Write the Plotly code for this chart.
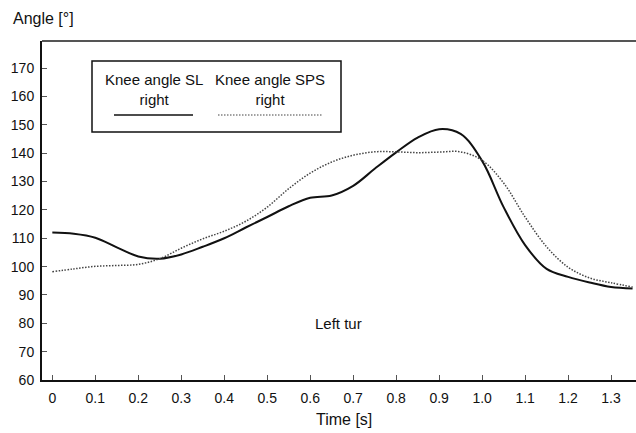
import plotly.graph_objects as go

time_s = [0, 0.05, 0.1, 0.15, 0.2, 0.25, 0.3, 0.35, 0.4, 0.45, 0.5, 0.55, 0.6, 0.65,
          0.7, 0.75, 0.8, 0.85, 0.9, 0.95, 1.0, 1.05, 1.1, 1.15, 1.2, 1.25, 1.3, 1.35]
knee_sl_right = [112.0, 111.6, 110.2, 106.8, 103.6, 102.8, 104.3, 107.0, 110.0, 113.8,
                 117.5, 121.3, 124.3, 125.1, 128.5, 134.5, 140.3, 145.5, 148.5, 146.8,
                 137.3, 121.0, 107.6, 99.2, 96.4, 94.4, 92.8, 92.3]
knee_sps_right = [98.2, 99.2, 100.1, 100.4, 100.8, 102.8, 106.5, 109.8, 112.5, 116.0,
                  121.0, 127.5, 133.0, 136.9, 139.3, 140.5, 140.5, 140.2, 140.4, 140.5,
                  137.5, 129.5, 117.5, 107.0, 99.8, 96.0, 94.3, 92.8]

x_ticks = [0, 0.1, 0.2, 0.3, 0.4, 0.5, 0.6, 0.7, 0.8, 0.9, 1.0, 1.1, 1.2, 1.3]
x_tick_labels = ["0", "0.1", "0.2", "0.3", "0.4", "0.5", "0.6", "0.7", "0.8", "0.9",
                 "1.0", "1.1", "1.2", "1.3"]
y_ticks = [60, 70, 80, 90, 100, 110, 120, 130, 140, 150, 160, 170]
series_names = ["Knee angle SL<br>right", "Knee angle SPS<br>right"]

FONT = "Liberation Sans, Arial, sans-serif"
DOT = "1.5px,1.5px"

fig = go.Figure()
fig.add_trace(go.Scatter(x=time_s, y=knee_sl_right, mode="lines",
                         line=dict(color="#111111", width=2, shape="spline"),
                         name=series_names[0], showlegend=False))
fig.add_trace(go.Scatter(x=time_s, y=knee_sps_right, mode="lines",
                         line=dict(color="#444444", width=1.5, dash=DOT, shape="spline"),
                         name=series_names[1], showlegend=False))

# plot area: x 42..636, y 41..380 px
W, H = 636, 433
L, R, T, B = 42, 0, 41, 53
pw, ph = W - L - R, H - T - B
def px(x):
    return (x - L) / pw
def py(y):
    return (H - B - y) / ph

shapes = [
    dict(type="rect", xref="paper", yref="paper", x0=px(92), x1=px(341), y0=py(132), y1=py(61),
         line=dict(color="#111111", width=1.5), fillcolor="white"),
    dict(type="line", xref="paper", yref="paper", x0=px(114), x1=px(193), y0=py(115), y1=py(115),
         line=dict(color="#111111", width=1.5)),
    dict(type="line", xref="paper", yref="paper", x0=px(218), x1=px(323), y0=py(115), y1=py(115),
         line=dict(color="#444444", width=1.2, dash=DOT)),
    dict(type="line", xref="paper", yref="paper", x0=0, x1=1, y0=1, y1=1,
         line=dict(color="#555555", width=2)),
]

annotations = [
    dict(text=series_names[0], xref="paper", yref="paper", x=px(154), y=py(89),
         xanchor="center", yanchor="middle",
         showarrow=False, font=dict(family=FONT, size=15, color="#111"), align="center"),
    dict(text=series_names[1], xref="paper", yref="paper", x=px(270), y=py(89),
         xanchor="center", yanchor="middle",
         showarrow=False, font=dict(family=FONT, size=15, color="#111"), align="center"),
    dict(text="Angle [°]", xref="paper", yref="paper", x=px(11), y=py(18), xanchor="left",
         yanchor="middle",
         showarrow=False, font=dict(family=FONT, size=16, color="#111")),
    dict(text="Time [s]", xref="paper", yref="paper", x=px(344), y=py(420),
         xanchor="center", yanchor="middle",
         showarrow=False, font=dict(family=FONT, size=16, color="#111")),
    dict(text="Left tur", x=0.665, y=80, xref="x", yref="y",
         xanchor="center", yanchor="middle",
         showarrow=False, font=dict(family=FONT, size=15, color="#111")),
]

fig.update_layout(
    width=W, height=H,
    margin=dict(l=L, r=R, t=T, b=B, autoexpand=False),
    paper_bgcolor="white", plot_bgcolor="white",
    font=dict(family=FONT, size=14, color="#111"),
    shapes=shapes, annotations=annotations,
    showlegend=False,
    xaxis=dict(range=[-0.024, 1.358], tickvals=x_ticks, ticktext=x_tick_labels,
               showgrid=False, zeroline=False, showline=True, linecolor="#111", linewidth=2,
               ticks="inside", ticklen=5, tickcolor="#555", tickwidth=1,
               ticklabelstandoff=4, automargin=False),
    yaxis=dict(range=[60, 179.6], tickvals=y_ticks,
               showgrid=False, zeroline=False, showline=True, linecolor="#111", linewidth=2,
               ticks="inside", ticklen=5, tickcolor="#555", tickwidth=1,
               ticklabelstandoff=3, automargin=False),
)

fig.write_html("out.html", config={"displayModeBar": False},
               post_script="document.body.style.margin='0';document.body.style.padding='0';")
